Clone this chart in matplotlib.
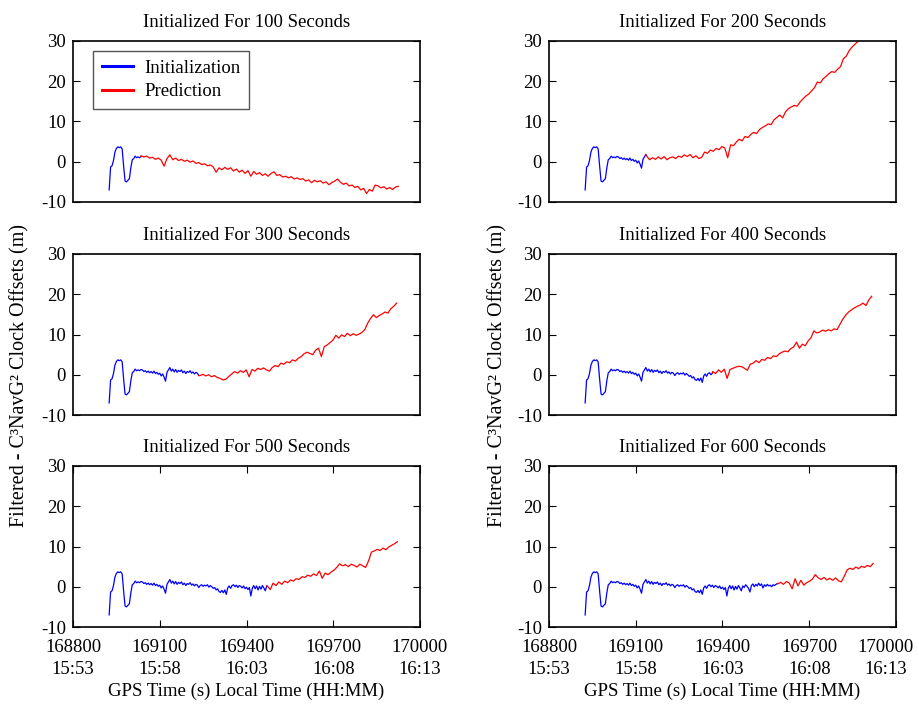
import numpy as np
import matplotlib
matplotlib.use("Agg")
import matplotlib.pyplot as plt
import matplotlib.transforms as mtransforms

plt.rcParams["font.family"] = ["Liberation Serif", "DejaVu Serif"]
plt.rcParams["font.size"] = 13.5
plt.rcParams["axes.unicode_minus"] = False

# --------------------------------------------------
# data (GPS seconds, metres)

blue_start = 168925
blue_step = 5
blue_y = [
    -7.0, -1.3, -1.0, 0.3, 2.4, 3.3, 3.7, 3.5, 3.7, 3.2,
    -1.0, -4.8, -5.0, -4.6, -4.2, -1.5, 0.5, 0.8, 1.4, 1.0,
    1.2, 1.0, 1.3,
    1.2, 0.8, 1.0, 0.6, 0.9, 0.5, 0.8, 0.4, 0.9, 0.3,
    0.6, 0.1, 0.4, -0.3, 0.2, -0.6, -1.6, 0.6, 1.2, 1.8,
    0.9, 1.4, 0.7, 1.3, 0.6, 1.1, 0.8, 1.2, 0.5, 0.9,
    0.3, 0.8, 0.6, 1.0, 0.4, 0.7, 0.2, 0.6, 0.4, -0.2,
    0.3, 0.5, 0.1, 0.4, 0.2, 0.5, -0.1, 0.3, 0.0, -0.4,
    -0.2, -0.8, -0.5, -1.2, -1.4, -0.9, -1.5, -0.8, -1.9, -0.3,
    0.2, -0.4, 0.3, 0.5, 0.0, 0.4, -0.2, 0.3, 0.1, -0.3,
    0.2, -0.5, -0.1, -0.7, -0.2, -2.3, -0.4, 0.3, -0.5, 0.2,
    -0.8, 0.1, -0.6, 0.3, -0.3, -1.0, 0.2, -0.2, 0.5, 0.1,
    -0.4, -1.3, 0.3, 0.7, 0.0, 0.6, 0.2, 0.9, 0.3, 0.7,
    -0.3, 0.5, 0.1, 0.6, 0.2, 0.4, 0.0, 0.5, 0.3, 0.6, 0.8,
]

init_seconds = [100, 200, 300, 400, 500, 600]
init_end = [169035, 169138, 169239, 169366, 169472, 169591]
red_step = 10

red_100 = [
    1.5, 1.2, 1.4, 0.9, 1.1, 0.6, 0.9, 0.4, -1.1, 0.8,
    1.7, 0.5, 0.9, 0.3, 0.6, 0.1, 0.4, -0.1, 0.2, -0.4,
    -0.2, -0.7, -0.5, -1.0, -0.8, -1.3, -2.6, -1.5, -2.0, -1.4,
    -1.9, -1.5, -2.3, -1.8, -2.6, -2.1, -2.9, -2.2, -3.6, -2.4,
    -3.1, -2.7, -3.4, -3.0, -3.6, -2.9, -2.5, -3.4, -3.2, -3.8,
    -3.6, -4.0, -3.7, -4.3, -4.0, -4.4, -4.2, -4.8, -4.5, -5.2,
    -4.6, -5.0, -4.7, -5.3, -5.0, -5.7, -5.2, -4.8, -4.3, -5.1,
    -5.6, -5.3, -6.0, -5.8, -6.4, -6.1, -7.0, -6.6, -7.9, -6.9,
    -7.3, -5.8, -6.0, -6.5, -6.2, -6.8, -6.4, -6.9, -6.3, -6.1,
]
red_200 = [
    1.4, 0.5, 1.0, 0.6, 1.2, 0.7, 1.3, 0.5, 1.0, 1.2,
    0.8, 1.4, 1.1, 1.7, 1.3, 1.8, 1.0, 1.5, 0.8, 1.1,
    2.4, 2.1, 2.9, 2.6, 3.3, 3.0, 3.8, 3.4, 1.0, 4.2,
    4.0, 4.9, 5.6, 5.2, 6.3, 6.0, 6.8, 7.3, 7.0, 8.0,
    8.5, 8.9, 9.4, 9.2, 10.4, 11.0, 11.6, 10.9, 12.4, 13.2,
    13.6, 14.0, 13.8, 14.8, 15.6, 16.3, 16.8, 17.6, 18.4, 19.8,
    19.6, 20.6, 21.2, 21.9, 22.4, 22.2, 23.0, 23.6, 25.6, 26.2,
    27.6, 28.5, 29.2, 29.9, 30.6,
]
red_300 = [
    -0.2, 0.1, -0.3, 0.0, -0.5, -0.2, -0.7, -0.9, -1.3, -1.1,
    -0.4, 0.2, 0.8, 0.4, 1.0, 0.6, 1.2, -0.5, 1.3, 0.9,
    1.6, 1.3, 1.7, 1.2, 0.9, 1.8, 2.3, 2.0, 2.9, 2.6,
    3.2, 3.0, 3.7, 3.4, 4.1, 4.5, 5.2, 5.6, 5.3, 5.0,
    6.1, 6.6, 4.5, 7.0, 7.4, 8.0, 8.6, 9.8, 9.1, 9.9,
    9.5, 10.3, 9.7, 10.2, 9.8, 10.1, 10.5, 11.2, 12.8, 14.0,
    14.9, 14.2, 14.7, 15.1, 15.6, 15.3, 16.4, 17.0, 17.8,
]
red_400 = [
    0.8, 0.3, 1.2, 0.6, 1.4, -0.9, 1.3, 1.6, 1.9, 2.1,
    2.0, 1.6, 1.1, 2.6, 2.9, 3.5, 3.0, 3.8, 3.6, 4.3,
    4.0, 4.7, 4.5, 5.2, 5.6, 5.9, 5.7, 6.5, 6.9, 8.1,
    6.6, 7.6, 7.2, 8.4, 9.2, 10.9, 10.4, 10.6, 11.1, 10.8,
    11.2, 10.9, 11.4, 11.2, 12.5, 13.8, 14.8, 15.6, 16.1, 16.6,
    17.0, 17.3, 17.8, 17.2, 18.6, 19.5,
]
red_500 = [
    0.2, -0.7, 0.9, 0.3, 1.2, 0.6, 1.4, 1.0, 1.7, 1.4,
    2.0, 1.8, 2.5, 2.3, 2.9, 2.6, 3.2, 2.8, 3.9, 2.1,
    3.4, 3.0, 3.6, 4.1, 4.8, 5.7, 5.2, 5.5, 5.0, 5.6,
    5.3, 4.9, 5.6, 5.2, 4.8, 6.4, 8.6, 8.9, 9.3, 9.0,
    9.6, 9.2, 9.9, 10.3, 10.7, 11.2,
]
red_600 = [
    0.7, 1.1, 0.6, 1.3, 0.9, -0.5, 2.0, 0.2, 1.6, 0.4,
    1.0, 1.4, 1.9, 3.0, 2.2, 1.8, 2.3, 1.7, 2.1, 1.6,
    2.2, 1.5, 1.2, 2.6, 4.2, 4.6, 4.3, 4.9, 4.5, 5.1,
    4.8, 5.3, 5.0, 5.8,
]
red_series = [red_100, red_200, red_300, red_400, red_500, red_600]

xticks = [168800, 169100, 169400, 169700, 170000]
xtick_clock = ["15:53", "15:58", "16:03", "16:08", "16:13"]
yticks = [-10, 0, 10, 20, 30]

# --------------------------------------------------

blue_t = blue_start + blue_step * np.arange(len(blue_y))
blue_y = np.array(blue_y)

fig = plt.figure(figsize=(9.2, 7.04), dpi=100)

W, H = 920, 704
col_left = [73, 549]
col_width = 347
row_top = [41, 254, 466]
row_height = 161

for i in range(6):
    r, c = divmod(i, 2)
    ax = fig.add_axes([col_left[c] / W, 1 - (row_top[r] + row_height) / H,
                       col_width / W, row_height / H])

    keep = blue_t <= init_end[i]
    ax.plot(blue_t[keep], blue_y[keep], color="blue", lw=0.9, label="Initialization")

    red_y = np.array(red_series[i])
    red_t = init_end[i] + red_step * np.arange(len(red_y))
    # join red onto the last blue sample
    red_t = np.concatenate([[blue_t[keep][-1]], red_t])
    red_y = np.concatenate([[blue_y[keep][-1]], red_y])
    ax.plot(red_t, red_y, color="red", lw=0.9, label="Prediction")

    ax.set_xlim(168800, 170000)
    ax.set_ylim(-10, 30)
    ax.set_yticks(yticks)
    ax.set_title(f"Initialized For {init_seconds[i]} Seconds", fontsize=13.5, pad=10)

    if r == 2:
        ax.set_xticks(xticks)
        ax.set_xticklabels([f"{t}\n{h}" for t, h in zip(xticks, xtick_clock)],
                           linespacing=1.35)
        ax.tick_params(axis="x", direction="in", top=True, length=5, pad=9)
        ax.set_xlabel("GPS Time (s) Local Time (HH:MM)", fontsize=13.5, labelpad=3)
        if c == 1:
            last = ax.get_xticklabels()[-1]
            last.set_transform(last.get_transform() +
                               mtransforms.ScaledTranslation(-10 / 100, 0, fig.dpi_scale_trans))
    else:
        ax.set_xticks([])

    ax.tick_params(axis="y", direction="in", right=True, length=5, pad=5)

    for s in ax.spines.values():
        s.set_linewidth(1.2)

    if i == 0:
        leg = ax.legend(loc="upper left", bbox_to_anchor=(0.058, 0.938),
                        borderaxespad=0, fontsize=13.5, fancybox=False,
                        framealpha=1, edgecolor="#555555", handlelength=1.7,
                        handletextpad=0.6, borderpad=0.45, labelspacing=0.35)
        for h in leg.get_lines():
            h.set_linewidth(2.2)

fig.text(0.022, 0.467, "Filtered - C³NavG² Clock Offsets (m)",
         rotation=90, ha="center", va="center", fontsize=14.5)
fig.text(0.541, 0.467, "Filtered - C³NavG² Clock Offsets (m)",
         rotation=90, ha="center", va="center", fontsize=14.5)

fig.savefig("out.png", dpi=100)
